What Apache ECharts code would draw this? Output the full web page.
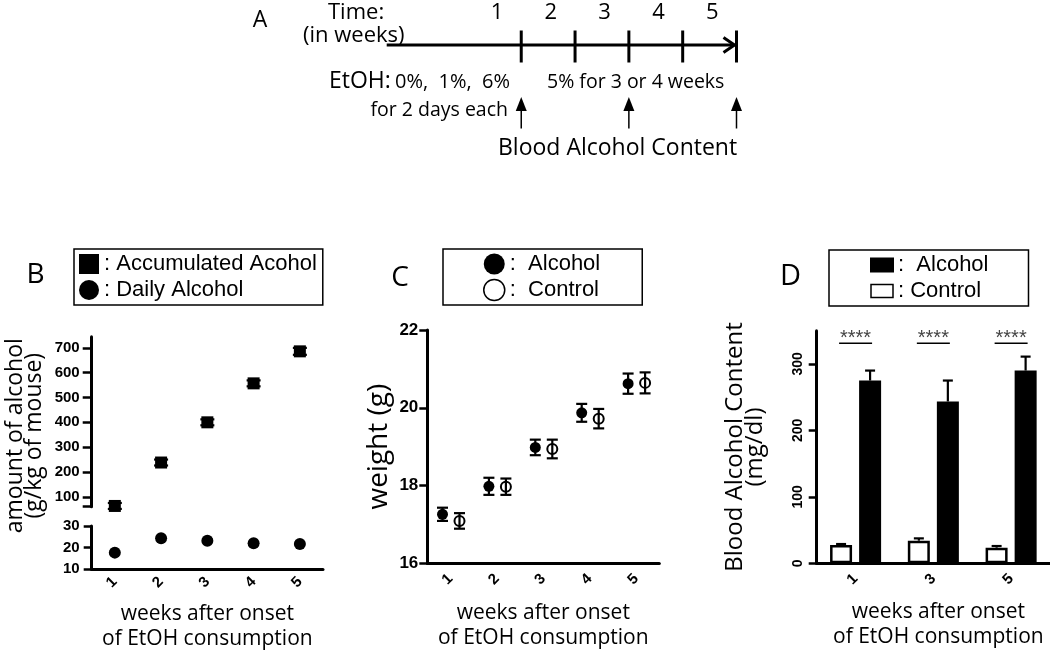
<!DOCTYPE html>
<html>
<head>
<meta charset="utf-8">
<script src="https://cdn.jsdelivr.net/npm/echarts@6/dist/echarts.min.js"></script>
<style>
  html, body { margin: 0; padding: 0; background: #fff; }
  #chart { width: 1050px; height: 653px; }
</style>
</head>
<body>
<div id="chart"></div>
<script>
// panel B
const weeks = ['1', '2', '3', '4', '5']
const accumulated = [63, 238, 400, 557, 686]
const accumulatedErr = [12, 12, 12, 12, 14]
const daily = [17.7, 24.3, 23.2, 22.0, 21.7]
const dailyErr = [0.6, 0.6, 0.6, 0.6, 0.6]
const accTicks = [60, 100, 200, 300, 400, 500, 600, 700]
const accLabels = [100, 200, 300, 400, 500, 600, 700]

// panel C
const weightAlcohol = [17.26, 17.98, 18.98, 19.87, 20.62]
const weightAlcoholErr = [0.17, 0.22, 0.2, 0.23, 0.26]
const weightControl = [17.09, 17.97, 18.94, 19.72, 20.64]
const weightControlErr = [0.2, 0.21, 0.24, 0.25, 0.27]

// panel D
const bacWeeks = ['1', '3', '5']
const bacControl = [27.5, 34, 23.5]
const bacControlErr = [1.5, 3.5, 2.5]
const bacAlcohol = [275, 243.5, 290]
const bacAlcoholErr = [15, 31.5, 21]
const bacSig = ['****', '****', '****']
const bacSigLevel = [331, 331, 331]
const bacTicks = [0, 100, 200, 300]

// panel A (timeline)
const timelineWeeks = [1, 2, 3, 4, 5]
const timelineLabels = ['1', '2', '3', '4', '5']
const bacArrowWeeks = [1, 3, 5]

const legendNames = {
  'B-acc': ': Accumulated Acohol',
  'B-daily': ': Daily Alcohol',
  'C-alc': ':  Alcohol',
  'C-ctl': ':  Control',
  'D-alc': ':  Alcohol',
  'D-ctl': ': Control'
}

const TICK_FONT = 'Liberation Sans'
const TITLE_FONT = 'Open Sans'

function errorBars(offset, cap, upperOnly) {
  return function (params, api) {
    const i = api.value(0)
    const v = api.value(1)
    const e = api.value(2)
    const x = api.coord([i, v])[0] + offset
    const hi = api.coord([i, v + e])[1]
    const lo = upperOnly ? api.coord([i, v])[1] : api.coord([i, v - e])[1]
    const style = { stroke: '#000', lineWidth: 2.2 }
    const children = [
      { type: 'line', shape: { x1: x, y1: hi, x2: x, y2: lo }, style },
      { type: 'line', shape: { x1: x - cap / 2, y1: hi, x2: x + cap / 2, y2: hi }, style }
    ]
    if (!upperOnly) {
      children.push({ type: 'line', shape: { x1: x - cap / 2, y1: lo, x2: x + cap / 2, y2: lo }, style })
    }
    return { type: 'group', children }
  }
}

function catAxis(gridIndex, data, name, nameGap, labelMargin) {
  return {
    type: 'category',
    gridIndex,
    data,
    boundaryGap: true,
    axisLine: { lineStyle: { color: '#000', width: 3 } },
    axisTick: { alignWithLabel: true, length: 8, lineStyle: { color: '#000', width: 2.5 } },
    axisLabel: { rotate: 45, margin: labelMargin, color: '#000', fontFamily: TICK_FONT, fontWeight: 'bold', fontSize: 15 },
    name,
    nameLocation: 'middle',
    nameGap,
    nameTextStyle: { fontFamily: TITLE_FONT, fontSize: 21, lineHeight: 25, color: '#000' }
  }
}

function valAxis(gridIndex, opts) {
  return Object.assign({
    type: 'value',
    gridIndex,
    splitLine: { show: false },
    axisLine: { show: true, lineStyle: { color: '#000', width: 3 } },
    axisTick: { show: true, length: 8, lineStyle: { color: '#000', width: 2.5 } },
    axisLabel: { margin: 12, color: '#000', fontFamily: TICK_FONT, fontWeight: 'bold', fontSize: 15 }
  }, opts)
}

const xName = 'weeks after onset\nof EtOH consumption'

function txt(text, x, y, size, align) {
  return {
    type: 'text', x, y,
    style: { text, font: size + 'px "Open Sans"', fill: '#000', textAlign: align || 'left', textVerticalAlign: 'middle' }
  }
}

const option = {
  backgroundColor: '#fff',
  animation: false,
  graphic: [
    txt('A', 260, 20, 23, 'center'),
    txt('B', 35.5, 275, 28, 'center'),
    txt('C', 400, 278.5, 28, 'center'),
    txt('D', 790.5, 277, 29, 'center'),
    txt('Time:', 328, 13, 22),
    txt('(in weeks)', 303, 36, 22),
    txt('EtOH:', 329, 81, 23),
    txt('0%,  1%,  6%', 395, 82, 20),
    txt('5% for 3 or 4 weeks', 547, 82, 19.5),
    txt('for 2 days each', 508, 110, 19.5, 'right'),
    txt('Blood Alcohol Content', 498, 148, 23)
  ],
  legend: [
    {
      left: 74, top: 249, orient: 'vertical', selectedMode: false,
      padding: [3, 6, 3, 5], itemGap: 2, itemWidth: 20, itemHeight: 20,
      borderColor: '#000', borderWidth: 1.5,
      formatter: (n) => legendNames[n],
      textStyle: { fontFamily: TICK_FONT, fontSize: 22, lineHeight: 24, color: '#000' },
      data: [
        { name: 'B-acc', icon: 'rect', itemStyle: { color: '#000', opacity: 1 } },
        { name: 'B-daily', icon: 'circle', itemStyle: { color: '#000', opacity: 1 } }
      ]
    },
    {
      left: 443, top: 249, orient: 'vertical', selectedMode: false,
      padding: [3, 42, 3, 40], itemGap: 2, itemWidth: 21, itemHeight: 21,
      borderColor: '#000', borderWidth: 1.5,
      formatter: (n) => legendNames[n],
      textStyle: { fontFamily: TICK_FONT, fontSize: 22, lineHeight: 24, color: '#000' },
      data: [
        { name: 'C-alc', icon: 'circle', itemStyle: { color: '#000', opacity: 1 } },
        { name: 'C-ctl', icon: 'circle', itemStyle: { color: '#fff', borderColor: '#000', borderWidth: 1.5, opacity: 1 } }
      ]
    },
    {
      left: 829, top: 250, orient: 'vertical', selectedMode: false,
      padding: [3, 40, 3, 41], itemGap: 2, itemWidth: 22, itemHeight: 13,
      borderColor: '#000', borderWidth: 1.5,
      formatter: (n) => legendNames[n],
      textStyle: { fontFamily: TICK_FONT, fontSize: 22, lineHeight: 24, color: '#000' },
      data: [
        { name: 'D-alc', icon: 'rect', itemStyle: { color: '#000' } },
        { name: 'D-ctl', icon: 'rect', itemStyle: { color: '#fff', borderColor: '#000', borderWidth: 1.5 } }
      ]
    }
  ],
  grid: [
    { left: 91.7, top: 336.7, width: 231.3, height: 170 },
    { left: 91.7, top: 526, width: 231.3, height: 43.3 },
    { left: 427.3, top: 330, width: 232, height: 233.3 },
    { left: 816.7, top: 330.7, width: 233.3, height: 232.6 },
    { left: 386.7, top: 20, width: 349.8, height: 50 }
  ],
  xAxis: [
    { type: 'category', gridIndex: 0, data: weeks, boundaryGap: true, show: false },
    catAxis(1, weeks, xName, 32, 10),
    catAxis(2, weeks, xName, 37, 13),
    Object.assign(catAxis(3, bacWeeks, xName, 36, 13), { nameTextStyle: { fontFamily: TITLE_FONT, fontSize: 21, lineHeight: 25, color: '#000', padding: [0, 0, 0, 10] } }),
    { type: 'value', gridIndex: 4, min: -1.5, max: 5, show: false }
  ],
  yAxis: [
    valAxis(0, {
      min: 60, max: 745,
      axisTick: { show: true, length: 9, customValues: accTicks, lineStyle: { color: '#000', width: 2.5 } },
      axisLabel: { margin: 12, customValues: accLabels, color: '#000', fontFamily: TICK_FONT, fontWeight: 'bold', fontSize: 15 },
      name: 'amount of alcohol\n(g/kg of mouse)',
      nameLocation: 'middle',
      nameGap: 48,
      nameTextStyle: { fontFamily: TITLE_FONT, fontSize: 23, lineHeight: 19, color: '#000', padding: [0, 28, 0, 0] }
    }),
    valAxis(1, { min: 10, max: 30, interval: 10 }),
    valAxis(2, {
      min: 16, max: 22, interval: 2,
      axisLabel: { margin: 9, color: '#000', fontFamily: TICK_FONT, fontWeight: 'bold', fontSize: 17 },
      name: 'weight (g)', nameLocation: 'middle', nameGap: 34,
      nameTextStyle: { fontFamily: TITLE_FONT, fontSize: 28, lineHeight: 28, color: '#000' }
    }),
    valAxis(3, {
      min: 0, max: 350,
      axisTick: { show: true, length: 8, customValues: bacTicks, lineStyle: { color: '#000', width: 2.5 } },
      axisLabel: { rotate: 90, margin: 12, customValues: bacTicks, color: '#000', fontFamily: TICK_FONT, fontWeight: 'bold', fontSize: 14 },
      name: 'Blood Alcohol Content\n(mg/dl)', nameLocation: 'middle', nameGap: 52,
      nameTextStyle: { fontFamily: TITLE_FONT, fontSize: 24, lineHeight: 20, color: '#000' }
    }),
    { type: 'value', gridIndex: 4, min: 0, max: 1, show: false }
  ],
  series: [
    // B
    {
      type: 'custom', xAxisIndex: 0, yAxisIndex: 0, z: 2,
      renderItem: errorBars(0, 14, false),
      data: weeks.map((w, i) => [i, accumulated[i], accumulatedErr[i]])
    },
    {
      name: 'B-acc', type: 'scatter', xAxisIndex: 0, yAxisIndex: 0, z: 3,
      symbol: 'rect', symbolSize: 12, itemStyle: { color: '#000', opacity: 1 },
      data: accumulated
    },
    {
      type: 'custom', xAxisIndex: 1, yAxisIndex: 1, z: 2,
      renderItem: errorBars(0, 10, false),
      data: weeks.map((w, i) => [i, daily[i], dailyErr[i]])
    },
    {
      name: 'B-daily', type: 'scatter', xAxisIndex: 1, yAxisIndex: 1, z: 3,
      symbol: 'circle', symbolSize: 12, itemStyle: { color: '#000', opacity: 1 },
      data: daily
    },
    // C
    {
      type: 'custom', xAxisIndex: 2, yAxisIndex: 2, z: 2,
      renderItem: errorBars(-8, 11, false),
      data: weeks.map((w, i) => [i, weightAlcohol[i], weightAlcoholErr[i]])
    },
    {
      name: 'C-alc', type: 'scatter', xAxisIndex: 2, yAxisIndex: 2, z: 3,
      symbol: 'circle', symbolSize: 11, symbolOffset: [-8, 0], itemStyle: { color: '#000', opacity: 1 },
      data: weightAlcohol
    },
    {
      type: 'custom', xAxisIndex: 2, yAxisIndex: 2, z: 2,
      renderItem: errorBars(9, 11, false),
      data: weeks.map((w, i) => [i, weightControl[i], weightControlErr[i]])
    },
    {
      name: 'C-ctl', type: 'scatter', xAxisIndex: 2, yAxisIndex: 2, z: 3,
      symbol: 'circle', symbolSize: 10, symbolOffset: [9, 0],
      itemStyle: { color: 'rgba(255,255,255,0)', borderColor: '#000', borderWidth: 2, opacity: 1 },
      data: weightControl
    },
    // D
    {
      name: 'D-ctl', type: 'bar', xAxisIndex: 3, yAxisIndex: 3,
      barWidth: 22, barGap: '32%',
      itemStyle: { color: '#fff', borderColor: '#000', borderWidth: 2.5 },
      data: bacControl
    },
    {
      name: 'D-alc', type: 'bar', xAxisIndex: 3, yAxisIndex: 3,
      barWidth: 22, barGap: '32%',
      itemStyle: { color: '#000', borderColor: '#000', borderWidth: 2.5 },
      data: bacAlcohol
    },
    {
      type: 'custom', xAxisIndex: 3, yAxisIndex: 3, z: 1,
      renderItem: errorBars(-14.5, 10, true),
      data: bacWeeks.map((w, i) => [i, bacControl[i], bacControlErr[i]])
    },
    {
      type: 'custom', xAxisIndex: 3, yAxisIndex: 3, z: 1,
      renderItem: errorBars(14.5, 10, true),
      data: bacWeeks.map((w, i) => [i, bacAlcohol[i], bacAlcoholErr[i]])
    },
    {
      type: 'custom', xAxisIndex: 3, yAxisIndex: 3, z: 3,
      renderItem: function (params, api) {
        const p = api.coord([api.value(0), api.value(1)])
        return {
          type: 'group',
          children: [
            { type: 'line', shape: { x1: p[0] - 16.5, y1: p[1], x2: p[0] + 16.5, y2: p[1] }, style: { stroke: '#000', lineWidth: 1.5 } },
            { type: 'text', x: p[0], y: p[1] - 5, style: { text: bacSig[params.dataIndex], font: '20px "Liberation Sans"', fill: '#444', textAlign: 'center', textVerticalAlign: 'middle' } }
          ]
        }
      },
      data: bacWeeks.map((w, i) => [i, bacSigLevel[i]])
    },
    // A timeline
    {
      type: 'custom', xAxisIndex: 4, yAxisIndex: 4,
      renderItem: function (params, api) {
        const w = api.value(0)
        const p = api.coord([w, 0.5])
        const lx = api.coord([w - 0.45, 0.5])[0]
        const style = { stroke: '#000', lineWidth: 3 }
        const children = [
          { type: 'line', shape: { x1: p[0], y1: p[1] - 14.5, x2: p[0], y2: p[1] + 17.5 }, style },
          { type: 'text', x: lx, y: p[1] - 32, style: { text: timelineLabels[params.dataIndex], font: '22px "Open Sans"', fill: '#000', textAlign: 'center', textVerticalAlign: 'middle' } }
        ]
        if (params.dataIndex === 0) {
          const s = api.coord([-1.5, 0.5])
          const e = api.coord([5, 0.5])
          children.push({ type: 'line', shape: { x1: s[0], y1: s[1], x2: e[0] - 2, y2: e[1] }, style })
          children.push({ type: 'polyline', shape: { points: [[e[0] - 13, e[1] - 7.5], [e[0] - 2, e[1]], [e[0] - 13, e[1] + 7.5]] }, style: { stroke: '#000', lineWidth: 3, fill: null } })
        }
        return { type: 'group', children }
      },
      data: timelineWeeks.map((w) => [w, 0.5])
    },
    {
      type: 'custom', xAxisIndex: 4, yAxisIndex: 4,
      renderItem: function (params, api) {
        const p = api.coord([api.value(0), 0.5])
        const tip = p[1] + 52
        return {
          type: 'group',
          children: [
            { type: 'line', shape: { x1: p[0], y1: tip + 8, x2: p[0], y2: p[1] + 83.5 }, style: { stroke: '#000', lineWidth: 1.5 } },
            { type: 'polygon', shape: { points: [[p[0], tip], [p[0] - 5.5, tip + 14], [p[0] + 5.5, tip + 14]] }, style: { fill: '#000' } }
          ]
        }
      },
      data: bacArrowWeeks.map((w) => [w, 0.5])
    }
  ]
}

const chart = echarts.init(document.getElementById('chart'))
chart.setOption(option)
</script>
</body>
</html>
